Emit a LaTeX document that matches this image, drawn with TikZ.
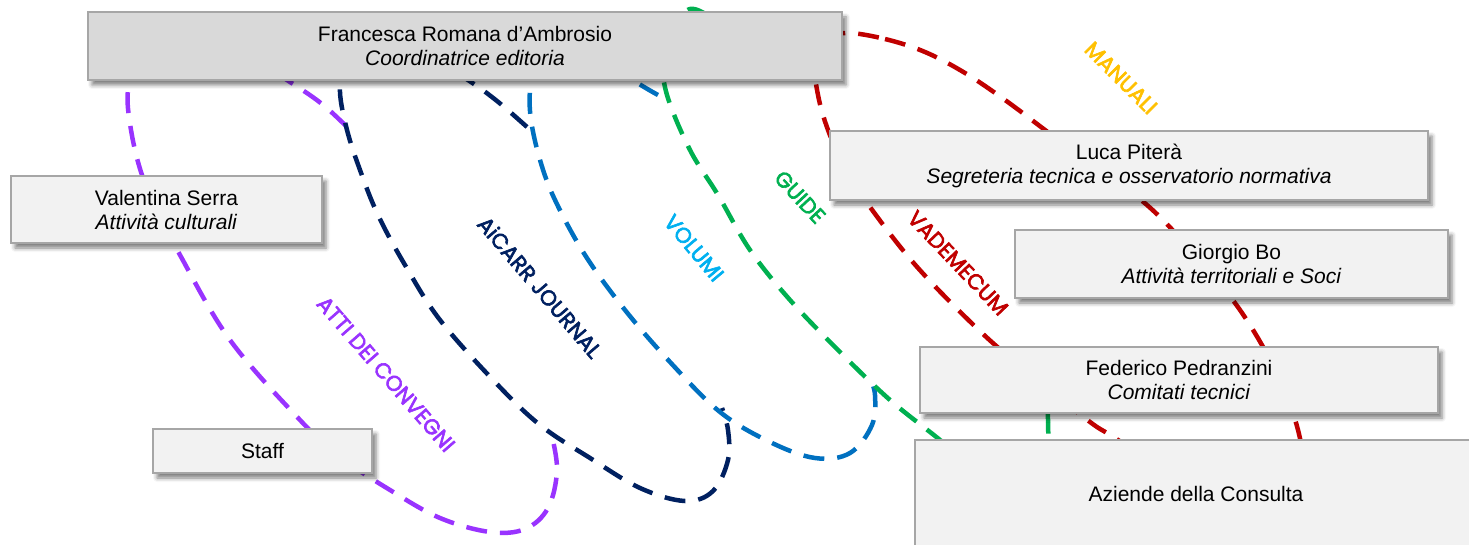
\documentclass[tikz,border=0pt]{standalone}
\usepackage{fontspec}
\setmainfont{Liberation Sans}
\newfontfamily\labfont{Poppins}[FakeBold=3]
\usetikzlibrary{shadows.blur}
\definecolor{cpurple}{RGB}{153,51,255}
\definecolor{cnavy}{RGB}{0,32,96}
\definecolor{cblue}{RGB}{0,112,192}
\definecolor{cgreen}{RGB}{0,176,80}
\definecolor{cred}{RGB}{192,0,0}
\definecolor{cgold}{RGB}{255,192,0}
\definecolor{clight}{RGB}{0,176,240}
\definecolor{boxline}{RGB}{166,166,166}
\definecolor{fillA}{RGB}{217,217,217}
\definecolor{fillB}{RGB}{242,242,242}
\tikzset{
  loopline/.style={line width=4.5pt, dash pattern=on 21pt off 13pt},
  box/.style={draw=boxline, line width=1.5pt, fill=fillB, inner sep=0pt, align=center,
    font=\fontsize{21}{24}\selectfont,
    blur shadow={shadow xshift=4pt, shadow yshift=-5pt, shadow blur radius=4pt, shadow opacity=50}},
  lab/.style={font=\labfont\fontsize{21.5}{24}\selectfont, inner sep=0pt}
}
\begin{document}
\begin{tikzpicture}[x=1pt,y=-1pt]
\useasboundingbox (0,0) rectangle (1469,545);
\clip (0,0) rectangle (1469,545);
% loops
\draw[loopline, cpurple] plot[smooth, tension=0.6] coordinates {(346,126) (322,104) (290,82) (240,52) (180,42) (140,58) (128,90) (131,130) (142,175) (160,215) (180,255) (230,340) (300,420) (340,457) (390,490) (440,518) (490,532) (525,529) (548,508) (557,470) (551,432)};
\draw[loopline, cnavy] plot[smooth, tension=0.6] coordinates {(527,127) (497,101) (468,80) (420,50) (370,48) (345,68) (340,92) (347,130) (360,170) (378,215) (405,265) (440,320) (495,382) (540,425) (590,458) (640,488) (685,501) (713,491) (728,460) (728,430) (722,408)};
\draw[loopline, cblue] plot[smooth, tension=0.6] coordinates {(658,95) (633,80) (600,55) (560,50) (535,65) (530,90) (531,120) (540,160) (555,200) (585,255) (625,310) (670,362) (720,412) (770,442) (815,458) (850,453) (872,425) (875,395) (870,378)};
\draw[loopline, cgreen] plot[smooth, tension=0.6] coordinates {(707,15) (690,9) (672,25) (663,58) (667,95) (690,150) (718,195) (750,250) (790,300) (840,352) (890,400) (940,440) (985,478) (1020,480) (1045,455) (1048,420) (1045,380)};
\draw[loopline, cred] plot[smooth cycle, tension=0.6] coordinates {(847,33) (885,39) (925,52) (965,73) (1005,100) (1045,130) (1095,168) (1147,205) (1195,255) (1240,310) (1275,370) (1298,430) (1303,480) (1285,515) (1245,520) (1190,490) (1118,440) (1090,422) (1035,378) (983,334) (918,268) (870,207) (845,168) (828,130) (818,95) (815,62) (827,40)};
% boxes
\node[box, fill=fillA, minimum width=754pt, minimum height=68pt] (fra) at (465,46) {Francesca Romana d’Ambrosio\\\textit{Coordinatrice editoria}};
\node[box, minimum width=311pt, minimum height=67pt] (val) at (166.5,209.5) {Valentina Serra\\\textit{Attività culturali}};
\node[box, minimum width=219pt, minimum height=44pt] (staff) at (262.5,451) {Staff};
\node[box, minimum width=598pt, minimum height=69pt] (luca) at (1129,165.5) {Luca Piterà\\\textit{Segreteria tecnica e osservatorio normativa}};
\node[box, minimum width=433pt, minimum height=68pt] (giorgio) at (1231.5,264) {Giorgio Bo\\\textit{Attività territoriali e Soci}};
\node[box, minimum width=518pt, minimum height=66pt] (fed) at (1179,380) {Federico Pedranzini\\\textit{Comitati tecnici}};
\node[box, minimum width=562pt, minimum height=108pt] (aziende) at (1196,494) {Aziende della Consulta};
% labels
\node[lab, text=cgold, rotate=-45] (manuali) at (1121,78) {MANUALI};
\node[lab, text=cred, rotate=-46.5] (vademecum) at (958,263) {VADEMECUM};
\node[lab, text=cgreen, rotate=-47] (guide) at (800,197) {GUIDE};
\node[lab, text=clight, rotate=-50] (volumi) at (694,248) {VOLUMI};
\node[lab, text=cnavy, rotate=-49.5] (journal) at (540,287) {AiCARR JOURNAL};
\node[lab, text=cpurple, rotate=-49] (atti) at (386,374) {ATTI DEI CONVEGNI};
\end{tikzpicture}
\end{document}
